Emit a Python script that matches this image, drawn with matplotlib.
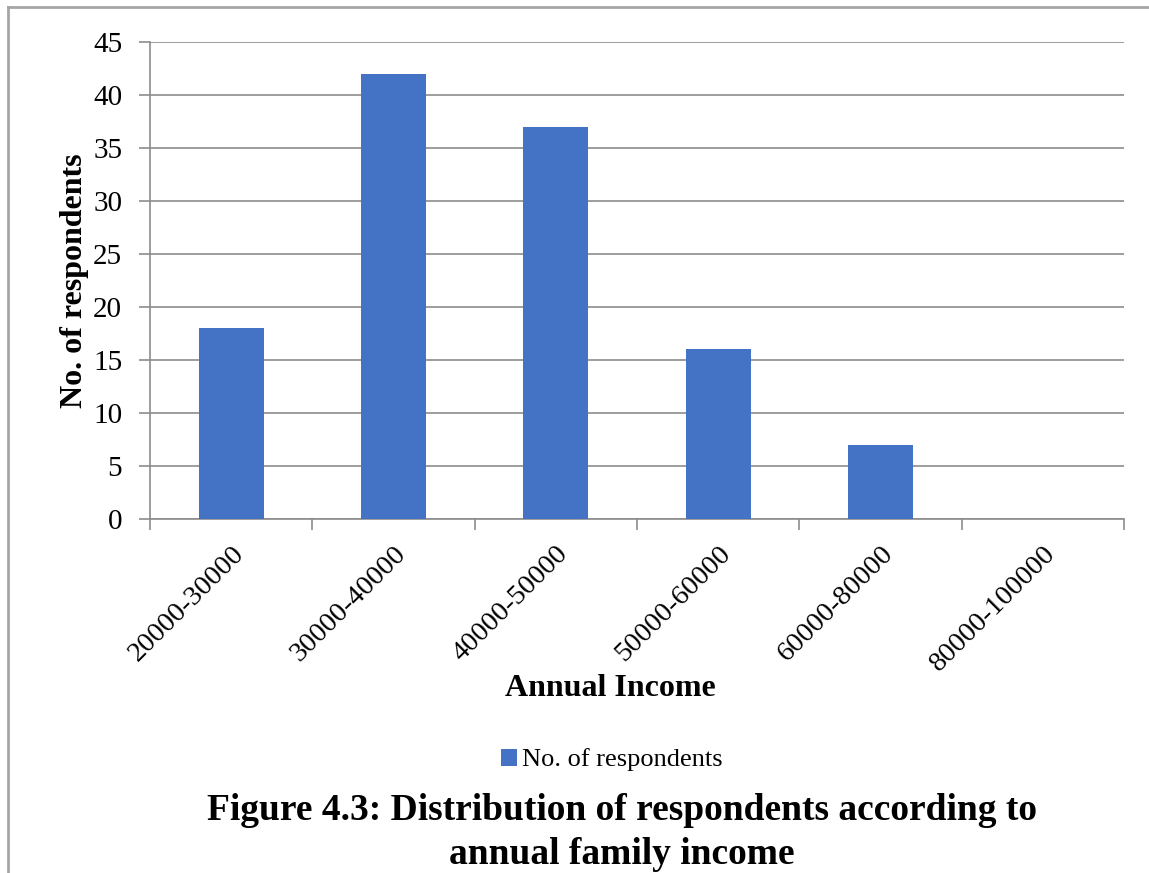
import matplotlib.pyplot as plt
from matplotlib.lines import Line2D

categories = ["20000-30000", "30000-40000", "40000-50000",
              "50000-60000", "60000-80000", "80000-100000"]
respondents = [18, 42, 37, 16, 7, 0]
yticks = list(range(0, 46, 5))

plt.rcParams["font.family"] = ["Liberation Serif", "DejaVu Serif"]

W, H = 1149, 873
fig = plt.figure(figsize=(W / 100, H / 100), dpi=100)

# outer chart border (left and top visible)
fig.add_artist(Line2D([8 / W, 8 / W], [0, 1 - 7 / H], color="#a6a6a6", lw=2))
fig.add_artist(Line2D([8 / W, 1], [1 - 7 / H, 1 - 7 / H], color="#a6a6a6", lw=2))

ax = fig.add_axes([150 / W, 1 - 519 / H, (1124 - 150) / W, (519 - 42) / H])
x = list(range(len(categories)))
ax.bar(x, respondents, width=0.4, color="#4472c4", label="No. of respondents", zorder=3)

ax.set_xlim(-0.5, len(categories) - 0.5)
ax.set_ylim(0, 45)
ax.set_yticks(yticks)
ax.set_yticklabels([str(v) for v in yticks], fontsize=21)
ax.yaxis.grid(True, color="#8c8c8c", lw=1.2, zorder=0)
ax.tick_params(axis="y", length=8, color="#8c8c8c", width=1.2, pad=12)

# category boundaries as major ticks, labels on minor ticks at bar centres
ax.set_xticks([i - 0.5 for i in range(len(categories) + 1)])
ax.set_xticklabels([])
ax.set_xticks(x, minor=True)
ax.set_xticklabels(categories, minor=True, rotation=45, ha="right",
                   rotation_mode="anchor", fontsize=20.5)
ax.tick_params(axis="x", which="minor", length=0, pad=16)
ax.tick_params(axis="x", which="major", length=8, color="#8c8c8c", width=1.2)

for side in ["top", "right"]:
    ax.spines[side].set_visible(False)
for side in ["left", "bottom"]:
    ax.spines[side].set_color("#8c8c8c")
    ax.spines[side].set_linewidth(1.2)

ax.set_ylabel("No. of respondents", fontsize=23, fontweight="bold", labelpad=3)
fig.text(610 / W, 1 - 688 / H, "Annual Income", fontsize=23, fontweight="bold",
         ha="center", va="center")

fig.legend(loc="center", bbox_to_anchor=(612 / W, 1 - 760 / H), frameon=False,
           fontsize=19, handlelength=0.6, handleheight=0.6, handletextpad=0.2)

fig.text(622 / W, 1 - 810 / H, "Figure 4.3: Distribution of respondents according to",
         fontsize=27, fontweight="bold", ha="center", va="center")
fig.text(622 / W, 1 - 855 / H, "annual family income",
         fontsize=27, fontweight="bold", ha="center", va="center")

fig.savefig("out.png", dpi=100)
